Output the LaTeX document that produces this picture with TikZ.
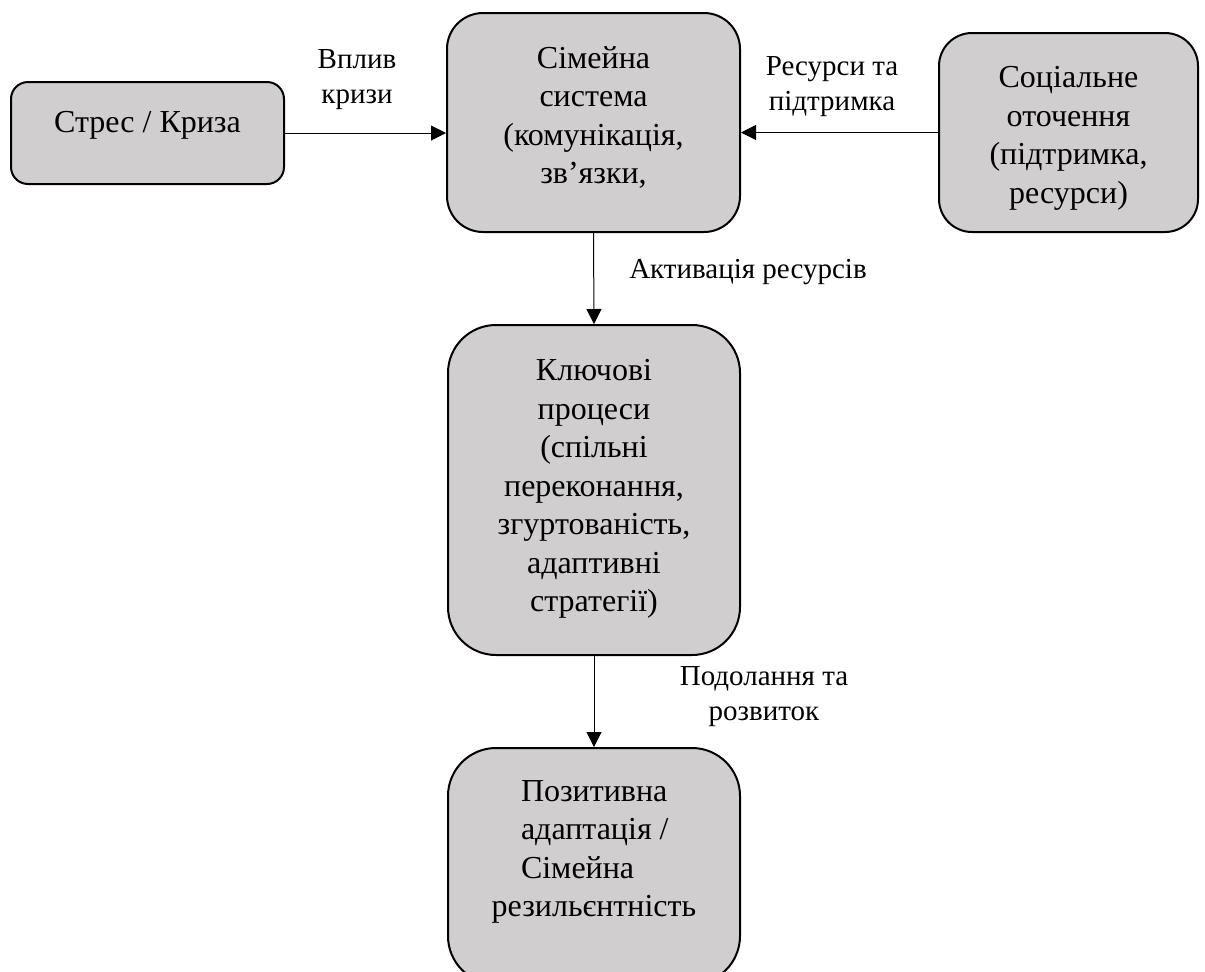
\documentclass[tikz,border=0pt]{standalone}
\usepackage{fontspec}
\setmainfont{Liberation Serif}
\usetikzlibrary{arrows.meta,positioning}
\definecolor{boxgray}{RGB}{208,206,206}
\tikzset{
  block/.style={draw=black, line width=1pt, fill=boxgray, inner sep=0pt},
  blocktext/.style={align=center, font=\fontsize{16}{19.25}\selectfont, inner sep=0pt, anchor=north},
  edgetext/.style={align=center, font=\fontsize{14.5}{17.5}\selectfont, inner sep=0pt, anchor=north},
  link/.style={-{Triangle[length=7.5pt,width=7.5pt]}, line width=0.5pt}
}
\begin{document}
\begin{tikzpicture}[x=0.5pt,y=-0.5pt]
    \useasboundingbox (0,0) rectangle (1205,971);

    % Boxes
    \node[block, minimum width=136.5pt, minimum height=51pt, rounded corners=8.5pt] (stress) at (147.5,133) {};
    \node[block, minimum width=146.5pt, minimum height=109.5pt, rounded corners=18pt] (family) at (593.5,122.5) {};
    \node[block, minimum width=129.5pt, minimum height=99.5pt, rounded corners=16.5pt] (social) at (1068.5,132.5) {};
    \node[block, minimum width=146pt, minimum height=165pt, rounded corners=24pt] (process) at (594,490) {};
    \node[block, minimum width=146pt, minimum height=118pt, rounded corners=24pt] (outcome) at (594,866) {};

    % Box texts
    \node[blocktext, below=15pt of stress.north] (stresstext) {Стрес / Криза};
    \node[blocktext, below=17pt of family.north] (familytext) {Сімейна\\система\\(комунікація,\\зв’язки,};
    \node[blocktext, below=17pt of social.north] (socialtext) {Соціальне\\оточення\\(підтримка,\\ресурси)};
    \node[blocktext, below=17.5pt of process.north] (processtext) {Ключові\\процеси\\(спільні\\переконання,\\згуртованість,\\адаптивні\\стратегії)};
    \node[blocktext, below=16.5pt of outcome.north] (outcometext) {\makebox[73pt][l]{Позитивна}\\\makebox[73pt][l]{адаптація /}\\\makebox[73pt][l]{Сімейна}\\резильєнтність};

    % Connectors
    \draw[link] (stress.east) -- (stress.east -| family.west);
    \draw[link] (social.west) -- (social.west -| family.east);
    \draw[link] (family.south) -- (process.north);
    \draw[link] (process.south) -- (outcome.north);

    % Connector labels
    \node[edgetext] (impact) at (357,49) {Вплив\\кризи};
    \node[edgetext] (support) at (832,56) {Ресурси та\\підтримка};
    \node[edgetext] (activation) at (748,259) {Активація ресурсів};
    \node[edgetext] (coping) at (764,666) {Подолання та\\розвиток};
\end{tikzpicture}
\end{document}
